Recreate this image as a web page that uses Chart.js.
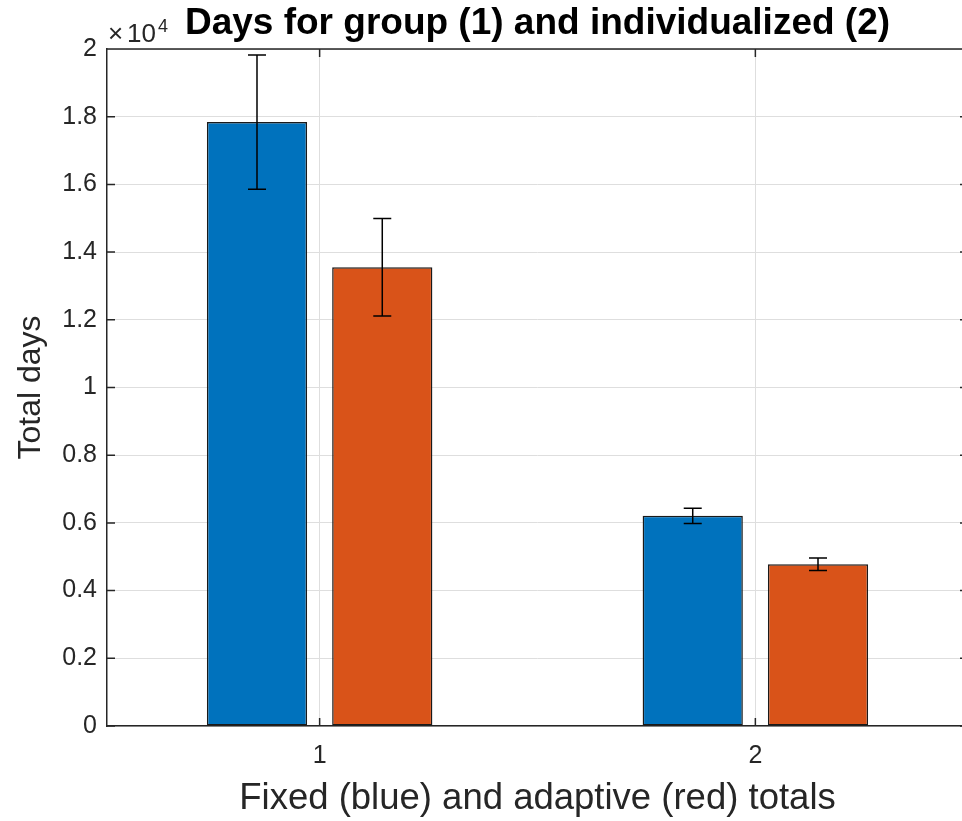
<!DOCTYPE html>
<html>
<head>
<meta charset="utf-8">
<script src="https://cdn.jsdelivr.net/npm/chart.js@4"></script>
<style>
  html, body { margin: 0; padding: 0; background: #fff; overflow: hidden; }
  #wrap { width: 962px; height: 821px; overflow: hidden; }
</style>
</head>
<body>
<div id="wrap"><canvas id="main-chart" width="980" height="821"></canvas></div>
<script>
// ── Data ──────────────────────────────────────────────────────────────────────
const CATEGORIES   = [1, 2];
const FIXED        = [17840, 6210];   // blue bars (days)
const FIXED_ERR    = [1980, 225];
const ADAPTIVE     = [13550, 4780];   // red bars (days)
const ADAPTIVE_ERR = [1440, 185];
const Y_TICK_LABELS = ["0", "0.2", "0.4", "0.6", "0.8", "1", "1.2", "1.4", "1.6", "1.8", "2"];

const FONT = "'Liberation Sans', Arial, Helvetica, sans-serif";
const AXIS = "#262626";

// ── Plugins ───────────────────────────────────────────────────────────────────
// error bars, centred on each bar
const errorBars = {
  id: "errorBars",
  afterDatasetsDraw(chart) {
    const { ctx } = chart;
    const y = chart.scales.y;
    ctx.save();
    ctx.strokeStyle = "#000";
    ctx.lineWidth = 1.5;
    chart.data.datasets.forEach((ds, i) => {
      chart.getDatasetMeta(i).data.forEach((bar, j) => {
        const v = ds.data[j].y, e = ds.errors[j];
        const top = y.getPixelForValue(v + e), bot = y.getPixelForValue(v - e);
        ctx.beginPath();
        ctx.moveTo(bar.x, top); ctx.lineTo(bar.x, bot);
        ctx.moveTo(bar.x - 9, top); ctx.lineTo(bar.x + 9, top);
        ctx.moveTo(bar.x - 9, bot); ctx.lineTo(bar.x + 9, bot);
        ctx.stroke();
      });
    });
    ctx.restore();
  },
};

// matlab style box, inward ticks and the x10^4 exponent
const matlabBox = {
  id: "matlabBox",
  afterDraw(chart) {
    const { ctx, chartArea: a } = chart;
    const { x, y } = chart.scales;
    const tl = 8;
    ctx.save();
    ctx.strokeStyle = AXIS;
    ctx.lineWidth = 1.5;
    ctx.beginPath();
    ctx.moveTo(a.left, a.top); ctx.lineTo(a.right, a.top); ctx.lineTo(a.right, a.bottom);
    y.ticks.forEach(t => {
      const p = y.getPixelForValue(t.value);
      ctx.moveTo(a.left, p); ctx.lineTo(a.left + tl, p);
      ctx.moveTo(a.right, p); ctx.lineTo(a.right - tl, p);
    });
    x.ticks.forEach(t => {
      const p = x.getPixelForValue(t.value);
      ctx.moveTo(p, a.bottom); ctx.lineTo(p, a.bottom - tl);
      ctx.moveTo(p, a.top); ctx.lineTo(p, a.top + tl);
    });
    ctx.stroke();

    ctx.fillStyle = AXIS;
    ctx.textAlign = "left";
    ctx.textBaseline = "alphabetic";
    ctx.font = "26px " + FONT;
    ctx.fillText("×", a.left + 1, 42);
    ctx.fillText("10", a.left + 20, 42);
    ctx.font = "18px " + FONT;
    ctx.fillText("4", a.left + 51, 32);
    ctx.restore();
  },
};

// ── Chart ─────────────────────────────────────────────────────────────────────
function renderChart() {
  const ctx = document.getElementById("main-chart");
  const toPoints = vals => vals.map((v, i) => ({ x: CATEGORIES[i], y: v }));

  new Chart(ctx, {
    type: "bar",
    data: {
      datasets: [
        { label: "Fixed",    data: toPoints(FIXED),    errors: FIXED_ERR,    backgroundColor: "#0072BD" },
        { label: "Adaptive", data: toPoints(ADAPTIVE), errors: ADAPTIVE_ERR, backgroundColor: "#D95319" },
      ].map(d => ({ ...d, borderColor: "#1a1a1a", borderWidth: 1.5, borderSkipped: false,
                    categoryPercentage: 0.575, barPercentage: 0.8 })),
    },
    options: {
      responsive: false,
      animation: false,
      layout: { padding: { left: 0, right: 12, top: 0, bottom: 0 } },
      plugins: {
        legend: { display: false },
        tooltip: { enabled: false },
        title: {
          display: true,
          text: "Days for group (1) and individualized (2)",
          color: "#000",
          fullSize: false,
          font: { family: FONT, size: 37, weight: "bold" },
          padding: { top: 2, bottom: 2.6 },
        },
      },
      scales: {
        x: {
          type: "linear",
          min: 0.512,
          max: 2.488,
          offset: false,
          afterBuildTicks: s => { s.ticks = CATEGORIES.map(v => ({ value: v })); },
          afterFit: s => { s.height = 95; },
          ticks: { color: AXIS, padding: 15, font: { family: FONT, size: 25 }, callback: v => String(v) },
          grid: { color: "#dedede", offset: false, drawTicks: false },
          border: { color: AXIS, width: 1.5 },
          title: {
            display: true,
            text: "Fixed (blue) and adaptive (red) totals",
            color: AXIS,
            font: { family: FONT, size: 36.5 },
            padding: { top: 0, bottom: 0 },
          },
        },
        y: {
          min: 0,
          max: 20000,
          afterFit: s => { s.width = 107; },
          ticks: { stepSize: 2000, color: AXIS, padding: 10, font: { family: FONT, size: 25 },
                   callback: (v, i) => Y_TICK_LABELS[i] },
          grid: { color: "#dedede", drawTicks: false },
          border: { color: AXIS, width: 1.5 },
          title: {
            display: true,
            text: "Total days",
            color: AXIS,
            font: { family: FONT, size: 32 },
            padding: { top: 12, bottom: 0 },
          },
        },
      },
    },
    plugins: [errorBars, matlabBox],
  });
}

document.addEventListener("DOMContentLoaded", renderChart);
</script>
</body>
</html>
